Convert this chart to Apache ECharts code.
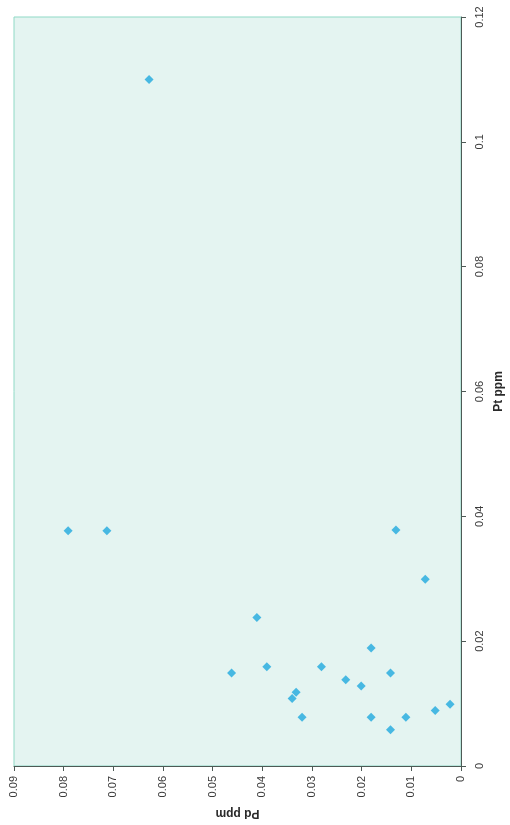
<!DOCTYPE html>
<html>
<head>
<meta charset="utf-8">
<script src="https://cdn.jsdelivr.net/npm/echarts@6/dist/echarts.min.js"></script>
<style>
  html, body { margin: 0; padding: 0; background: #ffffff; }
  #chart { width: 510px; height: 825px; }
</style>
</head>
<body>
<div id="chart"></div>
<script>
// Pt and Pd concentrations (ppm) for each sample
const ptPpm = [0.110, 0.0377, 0.0377, 0.0378, 0.0299, 0.0238, 0.0189, 0.0149, 0.0159, 0.0159, 0.0149,
               0.0138, 0.0128, 0.0118, 0.0108, 0.0078, 0.0078, 0.0078, 0.0058, 0.0089, 0.0099];
const pdPpm = [0.0628, 0.0791, 0.0713, 0.0131, 0.0072, 0.0411, 0.0181, 0.0462, 0.0391, 0.0281, 0.0142,
               0.0232, 0.0201, 0.0332, 0.0340, 0.0320, 0.0181, 0.0111, 0.0142, 0.0052, 0.0022];

// Axis tick settings
const pdTicks = { min: 0, max: 0.09, step: 0.01 };
const ptTicks = { min: 0, max: 0.12, step: 0.02 };

const points = ptPpm.map((pt, i) => [pdPpm[i], pt]);

const chart = echarts.init(document.getElementById('chart'), null, { renderer: 'canvas' });
const labelFont = { fontFamily: 'Liberation Sans, Arial, sans-serif', fontSize: 11, color: '#3a3a3a' };
const nameFont = { fontFamily: 'Liberation Sans, Arial, sans-serif', fontSize: 12, fontWeight: 'bold', color: '#2a2a2a' };

chart.setOption({
  animation: false,
  backgroundColor: '#ffffff',
  grid: {
    left: 14, right: 49, top: 17, bottom: 59,
    outerBoundsMode: 'none',
    containLabel: false,
    show: true,
    backgroundColor: '#e4f4f1',
    borderColor: '#8fd9c6',
    borderWidth: 1
  },
  xAxis: {
    type: 'value',
    position: 'bottom',
    inverse: true,
    min: pdTicks.min, max: pdTicks.max, interval: pdTicks.step,
    name: 'Pd ppm',
    nameLocation: 'middle',
    nameRotate: 180,
    nameGap: 41,
    nameTextStyle: nameFont,
    axisLine: { show: true, lineStyle: { color: '#4d5a55', width: 1 } },
    axisTick: { show: true, length: 5, lineStyle: { color: '#4d5a55' } },
    axisLabel: Object.assign({ rotate: 90, margin: 10, formatter: v => String(+v.toFixed(2)) }, labelFont),
    splitLine: { show: false }
  },
  yAxis: {
    type: 'value',
    position: 'right',
    min: ptTicks.min, max: ptTicks.max, interval: ptTicks.step,
    name: 'Pt ppm',
    nameLocation: 'middle',
    nameRotate: 90,
    nameGap: 32,
    nameTextStyle: nameFont,
    axisLine: { show: true, lineStyle: { color: '#4d5a55', width: 1 } },
    axisTick: { show: true, length: 5, lineStyle: { color: '#4d5a55' } },
    axisLabel: Object.assign({ rotate: 90, margin: 13, formatter: v => String(+v.toFixed(2)) }, labelFont),
    splitLine: { show: false }
  },
  series: [{
    type: 'scatter',
    data: points,
    symbol: 'diamond',
    symbolSize: 9,
    itemStyle: { color: '#1fa9de' }
  }]
});
</script>
</body>
</html>
